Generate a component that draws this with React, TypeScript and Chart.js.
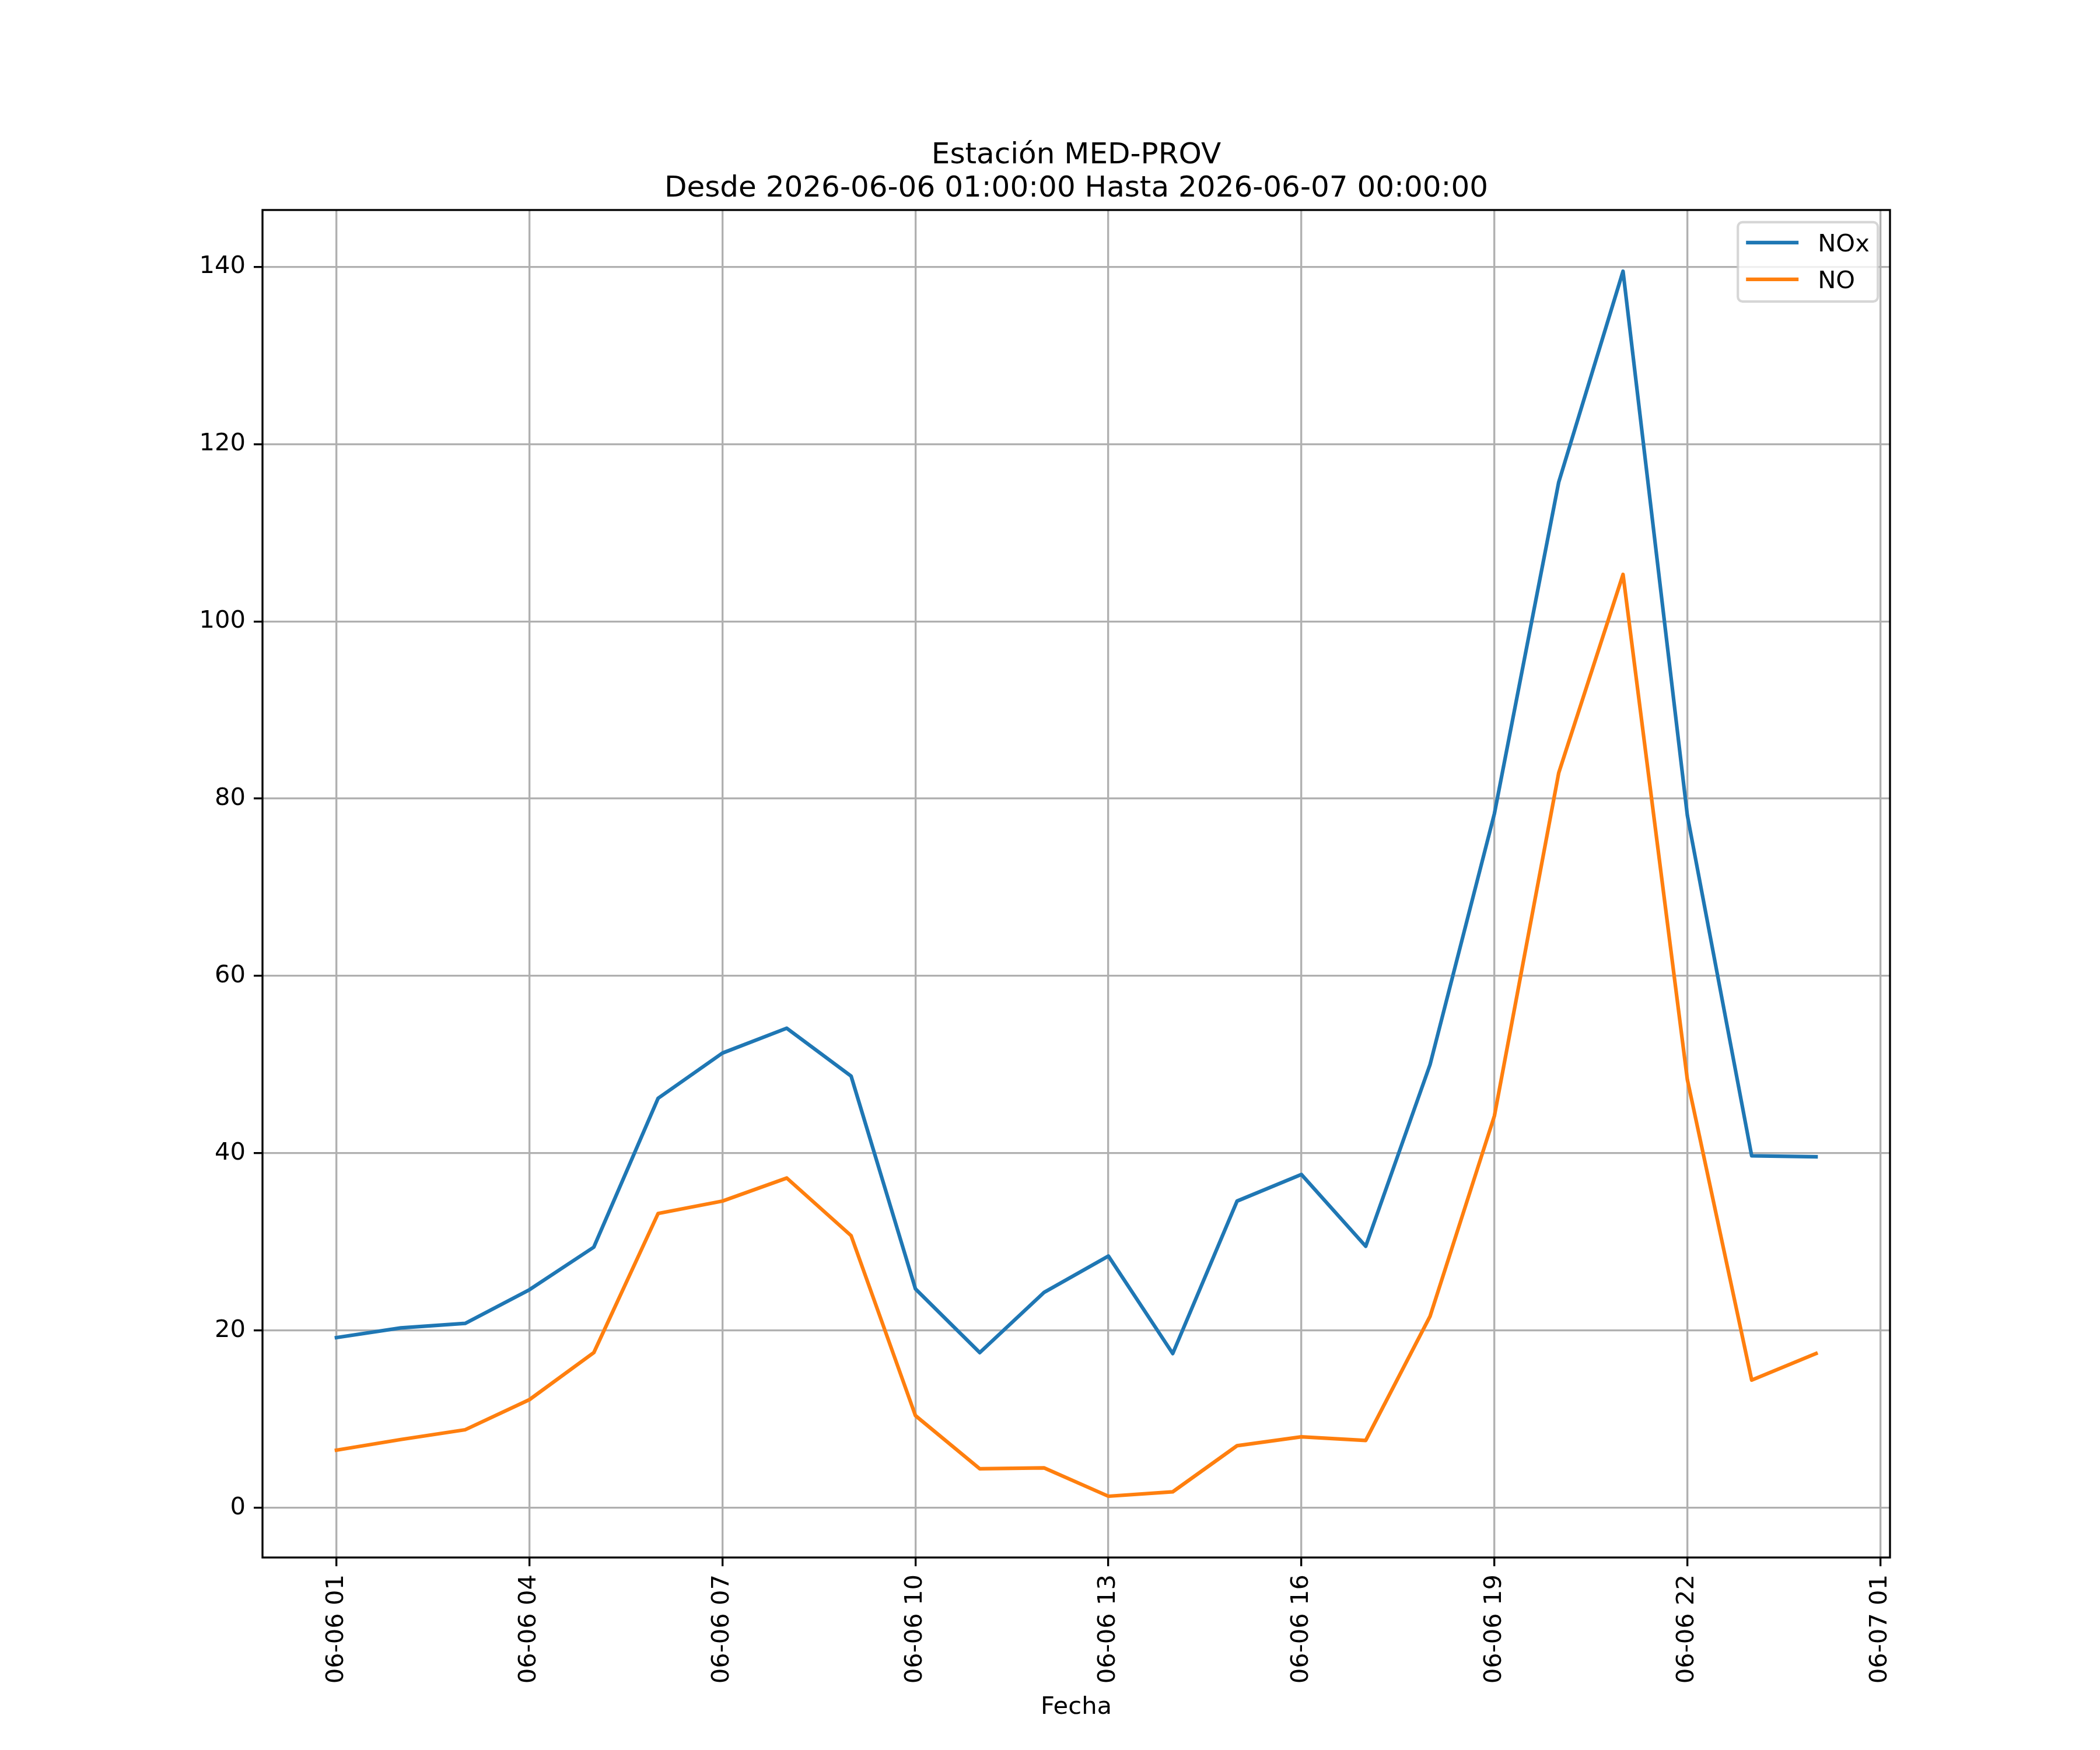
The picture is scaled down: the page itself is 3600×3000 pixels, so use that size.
import { useEffect, useRef } from "react"
import { Chart, registerables } from "chart.js"

Chart.register(...registerables)

// horas desde 2026-06-06 00:00
const horas = [1, 2, 3, 4, 5, 6, 7, 8, 9, 10, 11, 12, 13, 14, 15, 16, 17, 18, 19, 20, 21, 22, 23, 24]
const nox = [19.2, 20.3, 20.8, 24.6, 29.4, 46.2, 51.3, 54.1, 48.7, 24.7, 17.5, 24.3, 28.4, 17.4, 34.6, 37.6, 29.5, 50.0, 78.3, 115.7, 139.5, 78.1, 39.7, 39.6]
const no = [6.5, 7.7, 8.8, 12.2, 17.5, 33.2, 34.6, 37.2, 30.7, 10.4, 4.4, 4.5, 1.3, 1.8, 7.0, 8.0, 7.6, 21.6, 44.2, 82.9, 105.3, 48.3, 14.4, 17.4]

const xTickValues = [1, 4, 7, 10, 13, 16, 19, 22, 25]
const xTickLabels = ["06-06 01", "06-06 04", "06-06 07", "06-06 10", "06-06 13", "06-06 16", "06-06 19", "06-06 22", "06-07 01"]
const yTickValues = [0, 20, 40, 60, 80, 100, 120, 140]

const titulo = ["Estación MED-PROV", "Desde 2026-06-06 01:00:00 Hasta 2026-06-07 00:00:00"]
const etiquetaX = "Fecha"
const series = [
  { label: "NOx", data: nox, color: "#1f77b4" },
  { label: "NO", data: no, color: "#ff7f0e" },
]

const FONT = "'DejaVu Sans', sans-serif"

// marco, título, etiqueta del eje x y leyenda al estilo matplotlib
const decoracion = {
  id: "decoracion",
  afterDraw(chart: Chart) {
    const { ctx, chartArea: a } = chart
    ctx.save()
    ctx.strokeStyle = "#000"
    ctx.lineWidth = 3.33
    ctx.strokeRect(a.left, a.top, a.right - a.left, a.bottom - a.top)

    const cx = (a.left + a.right) / 2
    ctx.fillStyle = "#000"
    ctx.textAlign = "center"
    ctx.textBaseline = "alphabetic"
    ctx.font = `50px ${FONT}`
    ctx.fillText(titulo[0], cx, a.top - 80)
    ctx.fillText(titulo[1], cx, a.top - 23)
    ctx.font = `41.67px ${FONT}`
    ctx.fillText(etiquetaX, cx, 2938)

    // leyenda
    const w = 240
    const h = 136
    const lx = a.right - 20.8 - w
    const ly = a.top + 20.8
    ctx.beginPath()
    ctx.roundRect(lx, ly, w, h, 8)
    ctx.fillStyle = "rgba(255,255,255,0.8)"
    ctx.fill()
    ctx.strokeStyle = "rgba(204,204,204,0.8)"
    ctx.lineWidth = 4.17
    ctx.stroke()
    ctx.textAlign = "left"
    ctx.font = `41.67px ${FONT}`
    series.forEach((s, i) => {
      const yy = ly + 35 + i * 63
      ctx.strokeStyle = s.color
      ctx.lineWidth = 6.25
      ctx.beginPath()
      ctx.moveTo(lx + 14, yy)
      ctx.lineTo(lx + 104, yy)
      ctx.stroke()
      ctx.fillStyle = "#000"
      ctx.fillText(s.label, lx + 137, yy + 15)
    })
    ctx.restore()
  },
}

const App = () => {
  const chartRef = useRef<HTMLCanvasElement>(null)
  const chartInstance = useRef<Chart | null>(null)

  useEffect(() => {
    if (!chartRef.current) return
    if (chartInstance.current) chartInstance.current.destroy()

    const ticksFont = { family: FONT, size: 41.67 }
    const grid = {
      color: "#b0b0b0",
      lineWidth: 3.33,
      tickColor: "#000",
      tickWidth: 3.33,
      tickLength: 15,
    }

    chartInstance.current = new Chart(chartRef.current, {
      type: "line",
      data: {
        datasets: series.map((s) => ({
          label: s.label,
          data: horas.map((x, i) => ({ x, y: s.data[i] })),
          borderColor: s.color,
          backgroundColor: s.color,
          borderWidth: 6.25,
          borderJoinStyle: "round" as const,
          borderCapStyle: "square" as const,
          pointRadius: 0,
          tension: 0,
          fill: false,
        })),
      },
      options: {
        responsive: false,
        animation: false,
        devicePixelRatio: 1,
        layout: { padding: { left: 0, top: 360, right: 360, bottom: 0 } },
        plugins: {
          legend: { display: false },
          title: { display: false },
          tooltip: { enabled: false },
        },
        scales: {
          x: {
            type: "linear",
            min: -0.15,
            max: 25.15,
            afterFit: (s: any) => {
              s.height = 330
            },
            afterBuildTicks: (s: any) => {
              s.ticks = xTickValues.map((value) => ({ value }))
            },
            ticks: {
              autoSkip: false,
              maxRotation: 90,
              minRotation: 90,
              padding: 14,
              color: "#000",
              font: ticksFont,
              callback: (v: any) => xTickLabels[xTickValues.indexOf(Number(v))] ?? "",
            },
            grid,
            border: { display: false },
          },
          y: {
            type: "linear",
            min: -5.61,
            max: 146.41,
            afterFit: (s: any) => {
              s.width = 450
            },
            afterBuildTicks: (s: any) => {
              s.ticks = yTickValues.map((value) => ({ value }))
            },
            ticks: {
              padding: 14,
              color: "#000",
              font: ticksFont,
              callback: (v: any) => String(v),
            },
            grid,
            border: { display: false },
          },
        },
      },
      plugins: [decoracion],
    })

    return () => {
      if (chartInstance.current) {
        chartInstance.current.destroy()
        chartInstance.current = null
      }
    }
  }, [])

  return (
    <div style={{ position: "absolute", left: 0, top: 0, width: 3600, height: 3000, background: "#fff" }}>
      <canvas ref={chartRef} width={3600} height={3000} />
    </div>
  )
}

export default App
